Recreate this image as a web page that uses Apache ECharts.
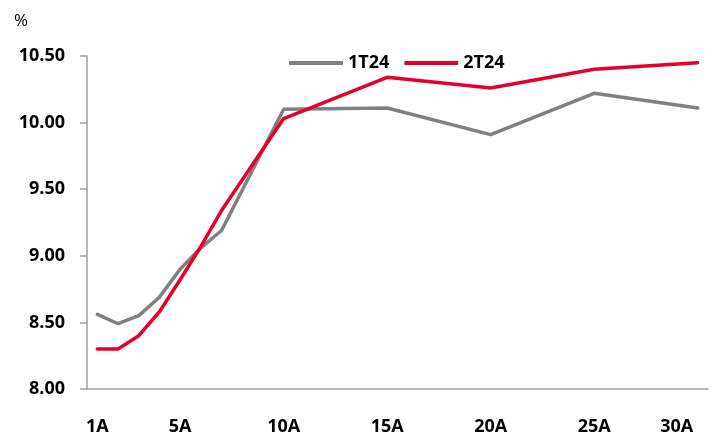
<!DOCTYPE html>
<html>
<head>
<meta charset="utf-8">
<script src="https://cdn.jsdelivr.net/npm/echarts@6/dist/echarts.min.js"></script>
<style>
  html, body { margin: 0; padding: 0; background: #fff; }
  #chart { width: 712px; height: 436px; }
</style>
</head>
<body>
<div id="chart"></div>
<script>
// Maturities (years) along the curve
const tenors = ['1A', '2A', '3A', '4A', '5A', '6A', '7A', '8A', '9A', '10A',
  '11A', '12A', '13A', '14A', '15A', '16A', '17A', '18A', '19A', '20A',
  '21A', '22A', '23A', '24A', '25A', '26A', '27A', '28A', '29A', '30A'];

// Tenors that carry an axis label
const labelledTenors = ['1A', '5A', '10A', '15A', '20A', '25A', '30A'];

// Yields (%) by tenor; gaps are tenors with no quote
const curve1T24 = [8.56, 8.49, 8.55, 8.69, 8.90, 9.06, 9.19, null, null, 10.10,
  null, null, null, null, 10.11, null, null, null, null, 9.91,
  null, null, null, null, 10.22, null, null, null, null, 10.11];
const curve2T24 = [8.30, 8.30, 8.40, 8.58, 8.82, 9.07, 9.34, null, null, 10.03,
  null, null, null, null, 10.34, null, null, null, null, 10.26,
  null, null, null, null, 10.40, null, null, null, null, 10.45];

// Y axis range
const yMin = 8.0, yMax = 10.5, yStep = 0.5;

const FONT = '"Open Sans", "Liberation Sans", sans-serif';
const AXIS_GREY = '#a0a0a0';

const chart = echarts.init(document.getElementById('chart'), null, { renderer: 'canvas' });

chart.setOption({
  animation: false,
  backgroundColor: '#ffffff',
  title: {
    text: '%',
    left: 9,
    top: 8,
    textStyle: { fontFamily: FONT, fontSize: 17, fontWeight: 'normal', color: '#000' }
  },
  legend: {
    left: 284,
    top: 49,
    itemWidth: 54,
    itemHeight: 4,
    itemGap: 15,
    icon: 'roundRect',
    textStyle: { fontFamily: FONT, fontSize: 18, fontWeight: 'bold', color: '#000' },
    data: ['1T24', '2T24']
  },
  grid: { left: 87, right: 4, top: 56, bottom: 47, containLabel: false },
  xAxis: {
    type: 'category',
    data: tenors,
    boundaryGap: true,
    axisLine: { lineStyle: { color: AXIS_GREY, width: 1.5 } },
    axisTick: {
      length: 7,
      lineStyle: { color: AXIS_GREY, width: 1.5 },
      interval: (idx) => idx % 5 === 0
    },
    axisLabel: {
      interval: (idx, val) => labelledTenors.includes(val),
      margin: 29,
      fontFamily: FONT,
      fontSize: 18,
      fontWeight: 'bold',
      color: '#000',
      formatter: (val, idx) => idx === tenors.length - 1 ? '{end|' + val + '}' : val,
      rich: {
        end: { fontFamily: FONT, fontSize: 18, fontWeight: 'bold', color: '#000', padding: [0, 42, 0, 0] }
      }
    },
    splitLine: { show: false }
  },
  yAxis: {
    type: 'value',
    min: yMin,
    max: yMax,
    interval: yStep,
    axisLine: { show: true, lineStyle: { color: AXIS_GREY, width: 1.5 } },
    axisTick: { show: true, length: 7, lineStyle: { color: AXIS_GREY, width: 1.5 } },
    axisLabel: {
      margin: 22,
      fontFamily: FONT,
      fontSize: 18,
      fontWeight: 'bold',
      color: '#000',
      formatter: (v) => v.toFixed(2)
    },
    splitLine: { show: false }
  },
  series: [
    {
      name: '1T24',
      type: 'line',
      data: curve1T24,
      connectNulls: true,
      showSymbol: false,
      symbol: 'none',
      lineStyle: { color: '#808080', width: 3.5, cap: 'round', join: 'round' },
      itemStyle: { color: '#808080' }
    },
    {
      name: '2T24',
      type: 'line',
      data: curve2T24,
      connectNulls: true,
      showSymbol: false,
      symbol: 'none',
      lineStyle: { color: '#e4002b', width: 3.5, cap: 'round', join: 'round' },
      itemStyle: { color: '#e4002b' }
    }
  ]
});
</script>
</body>
</html>
